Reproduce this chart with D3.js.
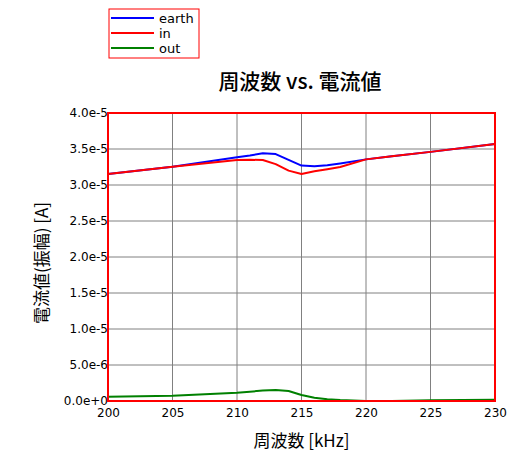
<!DOCTYPE html>
<html>
<head>
<meta charset="utf-8">
<script src="https://cdn.jsdelivr.net/npm/d3@7"></script>
<style>
  body { margin: 0; background: #fff; }
  text { font-family: "DejaVu Sans", "Noto Sans CJK JP", sans-serif; }
  .jp { font-family: "Noto Sans CJK JP", sans-serif; }
</style>
</head>
<body>
<div id="chart"></div>
<script>
// frequency (kHz)
var freq = [200, 205, 210, 211, 212, 213, 214, 215, 216, 217, 218, 220, 222, 225, 230];
// current amplitude (A)
var earth = [3.153e-5, 3.254e-5, 3.385e-5, 3.41e-5, 3.44e-5, 3.43e-5, 3.35e-5, 3.27e-5, 3.26e-5, 3.275e-5, 3.30e-5, 3.356e-5, 3.40e-5, 3.46e-5, 3.569e-5];
var inp   = [3.153e-5, 3.254e-5, 3.347e-5, 3.35e-5, 3.347e-5, 3.29e-5, 3.20e-5, 3.153e-5, 3.19e-5, 3.22e-5, 3.25e-5, 3.356e-5, 3.40e-5, 3.46e-5, 3.569e-5];
var outp  = [6.0e-7, 7.4e-7, 1.15e-6, 1.30e-6, 1.45e-6, 1.53e-6, 1.39e-6, 8.3e-7, 4.6e-7, 2.5e-7, 1.4e-7, 0, 0, 1.0e-7, 1.8e-7];

var seriesNames = ["earth", "in", "out"];
var seriesColors = ["#0000ff", "#ff0000", "#008000"];
var xTicks = [200, 205, 210, 215, 220, 225, 230];
var yTicks = [0, 5e-6, 1e-5, 1.5e-5, 2e-5, 2.5e-5, 3e-5, 3.5e-5, 4e-5];
var yTickLabels = ["0.0e+0", "5.0e-6", "1.0e-5", "1.5e-5", "2.0e-5", "2.5e-5", "3.0e-5", "3.5e-5", "4.0e-5"];

var W = 531, H = 458;
var margin = {top: 113, right: 36, bottom: 57, left: 108};
var width = W - margin.left - margin.right;
var height = H - margin.top - margin.bottom;

var svg = d3.select("#chart").append("svg")
    .attr("width", W)
    .attr("height", H);

var g = svg.append("g")
    .attr("transform", "translate(" + margin.left + "," + margin.top + ")");

var x = d3.scaleLinear().domain([200, 230]).range([0, width]);
var y = d3.scaleLinear().domain([0, 4e-5]).range([height, 0]);

// grid
g.append("g").selectAll("line.v")
    .data(xTicks)
    .enter().append("line")
    .attr("x1", d => x(d)).attr("x2", d => x(d))
    .attr("y1", 0).attr("y2", height)
    .attr("stroke", "#808080").attr("stroke-width", 1);

g.append("g").selectAll("line.h")
    .data(yTicks)
    .enter().append("line")
    .attr("x1", 0).attr("x2", width)
    .attr("y1", d => y(d)).attr("y2", d => y(d))
    .attr("stroke", "#808080").attr("stroke-width", 1);

// axes (labels only)
var xAxis = g.append("g")
    .attr("transform", "translate(0," + height + ")")
    .call(d3.axisBottom(x).tickValues(xTicks).tickSize(0).tickPadding(7));
var yAxis = g.append("g")
    .call(d3.axisLeft(y).tickValues(yTicks).tickSize(0).tickPadding(0)
        .tickFormat((d, i) => yTickLabels[i]));
[xAxis, yAxis].forEach(function(a) {
    a.select(".domain").remove();
    a.selectAll("text").attr("font-size", 12).attr("fill", "#000")
        .style("font-family", "'DejaVu Sans', sans-serif");
});

// lines
var rows = [earth, inp, outp];
var line = d3.line()
    .x(d => x(d[0]))
    .y(d => y(d[1]));

rows.forEach(function(vals, i) {
    var pts = freq.map((f, j) => [f, vals[j]]);
    g.append("path")
        .datum(pts)
        .attr("fill", "none")
        .attr("stroke", seriesColors[i])
        .attr("stroke-width", 2)
        .attr("stroke-linejoin", "round")
        .attr("d", line);
});

// plot border
g.append("rect")
    .attr("x", 0).attr("y", 0)
    .attr("width", width).attr("height", height)
    .attr("fill", "none")
    .attr("stroke", "#ff0000")
    .attr("stroke-width", 2);

// title
svg.append("text")
    .attr("class", "jp")
    .attr("x", 300).attr("y", 89)
    .attr("text-anchor", "middle")
    .attr("font-size", 21)
    .attr("font-weight", 500)
    .text("周波数 vs. 電流値");

// axis titles
svg.append("text")
    .attr("class", "jp")
    .attr("x", margin.left + width / 2).attr("y", 447)
    .attr("text-anchor", "middle")
    .attr("font-size", 17)
    .attr("fill", "#000")
    .text("周波数 [kHz]");

svg.append("text")
    .attr("class", "jp")
    .attr("transform", "translate(48," + (margin.top + height / 2 + 6) + ") rotate(-90)")
    .attr("text-anchor", "middle")
    .attr("font-size", 17)
    .attr("fill", "#000")
    .text("電流値(振幅) [A]");

// legend
var legend = svg.append("g").attr("transform", "translate(109,9)");
legend.append("rect")
    .attr("width", 90).attr("height", 49)
    .attr("fill", "#fff")
    .attr("stroke", "#ff0000")
    .attr("stroke-width", 1);
seriesNames.forEach(function(name, i) {
    var ly = 9 + i * 15;
    legend.append("line")
        .attr("x1", 2).attr("x2", 45)
        .attr("y1", ly).attr("y2", ly)
        .attr("stroke", seriesColors[i])
        .attr("stroke-width", 2);
    legend.append("text")
        .attr("x", 50).attr("y", ly + 5)
        .attr("font-size", 13)
        .attr("fill", "#000")
        .text(name);
});
</script>
</body>
</html>
